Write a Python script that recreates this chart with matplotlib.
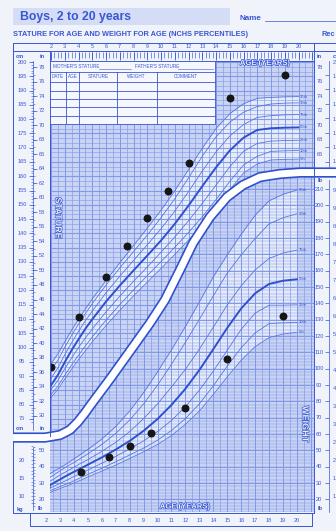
"""Boys 2 to 20 years: stature and weight for age percentile chart."""

import matplotlib

matplotlib.use("Agg")
import matplotlib.patheffects as pe  # noqa: E402
import numpy as np  # noqa: E402
from matplotlib import pyplot as plt  # noqa: E402
from matplotlib.patches import Polygon, Rectangle  # noqa: E402
from matplotlib.transforms import blended_transform_factory  # noqa: E402

plt.rcParams["font.family"] = ["Liberation Sans", "DejaVu Sans"]

# ---- data -------------------------------------------------------------------
percentiles = ["5th", "10th", "25th", "50th", "75th", "90th", "95th"]
ages = [2, 2.5, 3, 3.5, 4, 4.5, 5, 6, 7, 8, 9, 10, 11, 12, 13, 14, 15, 16, 17, 18, 19, 20]

stature_5 = [82.5, 85.4, 89.0, 92.5, 95.8, 98.9, 102.0, 107.7, 113.0, 118.1, 122.9, 127.7,
             132.6, 137.6, 142.9, 148.8, 155.2, 161.1, 164.3, 165.7, 165.9, 166.0]
stature_10 = [83.5, 86.5, 90.3, 93.9, 97.3, 100.6, 103.7, 109.6, 115.0, 120.2, 125.2, 130.1,
              135.1, 140.3, 145.8, 151.8, 158.2, 163.9, 167.0, 168.7, 168.9, 169.0]
stature_25 = [85.3, 88.5, 92.6, 96.4, 100.0, 103.4, 106.5, 112.5, 118.0, 123.2, 128.2, 133.4,
              138.7, 144.4, 150.5, 156.9, 163.3, 168.7, 171.5, 172.3, 172.5, 172.6]
stature_50 = [86.8, 90.4, 94.9, 99.1, 102.9, 106.6, 109.9, 116.1, 121.7, 127.0, 132.2, 137.5,
              143.3, 149.7, 156.5, 163.1, 169.0, 173.5, 176.2, 176.8, 177.0, 177.1]
stature_75 = [89.2, 92.9, 97.5, 101.7, 105.7, 109.4, 112.8, 119.2, 125.0, 130.5, 136.0, 141.6,
              147.8, 154.6, 161.8, 168.5, 174.1, 178.1, 180.6, 181.2, 181.5, 181.6]
stature_90 = [92.0, 95.6, 100.1, 104.3, 108.2, 111.9, 115.4, 121.9, 127.9, 133.6, 139.4, 145.5,
              152.1, 159.4, 167.0, 173.8, 178.9, 182.4, 184.4, 185.3, 185.6, 185.7]
stature_95 = [94.4, 97.8, 102.0, 106.1, 109.9, 113.5, 117.0, 123.5, 129.7, 135.7, 141.8, 148.1,
              154.9, 162.3, 169.8, 176.7, 181.9, 185.4, 187.3, 187.6, 187.8, 187.9]

weight_5 = [10.5, 11.3, 12.05, 12.8, 13.6, 14.4, 15.3, 16.9, 18.6, 20.4, 22.3, 24.3,
            26.8, 29.9, 33.6, 38.2, 43.1, 47.7, 51.5, 54.0, 55.0, 55.5]
weight_10 = [11.0, 11.8, 12.6, 13.4, 14.2, 15.1, 16.0, 17.7, 19.5, 21.4, 23.3, 25.5,
             28.2, 31.5, 35.6, 40.6, 46.1, 51.2, 55.3, 57.9, 58.1, 58.2]
weight_25 = [11.6, 12.6, 13.5, 14.4, 15.4, 16.3, 17.2, 19.1, 21.0, 23.1, 25.3, 27.9,
             31.0, 34.8, 39.4, 44.7, 50.5, 56.3, 60.8, 63.0, 63.0, 63.1]
weight_50 = [12.3, 13.5, 14.6, 15.7, 16.7, 17.7, 18.7, 20.7, 22.9, 25.3, 28.1, 31.4,
             35.3, 39.8, 45.0, 50.8, 56.7, 62.1, 66.3, 68.9, 69.8, 70.2]
weight_75 = [13.4, 14.6, 15.8, 16.9, 18.0, 19.1, 20.1, 22.4, 24.9, 27.9, 31.5, 35.6,
             40.3, 45.2, 50.8, 56.9, 63.1, 68.4, 72.8, 76.0, 77.5, 78.3]
weight_90 = [14.4, 15.7, 17.0, 18.2, 19.3, 20.5, 21.7, 24.3, 27.4, 31.1, 35.6, 40.8,
             46.6, 52.7, 59.1, 65.6, 71.9, 77.0, 81.5, 85.6, 87.3, 88.4]
weight_95 = [15.5, 16.7, 17.8, 19.0, 20.3, 21.6, 22.9, 25.8, 29.3, 33.6, 38.7, 44.5,
             50.6, 57.1, 63.9, 70.9, 77.0, 82.7, 88.0, 92.0, 93.8, 95.0]

stature_curves = [stature_5, stature_10, stature_25, stature_50, stature_75, stature_90, stature_95]
weight_curves = [weight_5, weight_10, weight_25, weight_50, weight_75, weight_90, weight_95]

# boundary band between the stature and weight panels (age, cm)
band_age = [-0.76, 1.56, 2.66, 3.38, 3.96, 4.47, 4.84, 6.29, 7.75, 9.20, 10.29, 11.38,
            12.33, 13.56, 14.80, 15.96, 17.20, 18.66, 20.11, 22.73]
band_cm = [68.5, 68.5, 69.4, 71.2, 74.0, 77.1, 79.6, 89.0, 98.8, 108.6, 116.7, 127.2,
           136.6, 145.7, 152.7, 156.9, 159.7, 160.8, 161.3, 161.3]

stature_visit_age = [2, 4, 6, 7.5, 9, 10.5, 12, 15, 19]
stature_visit_cm = [93.2, 110.6, 124.6, 135.6, 145.3, 154.8, 164.5, 187.5, 195.4]
weight_visit_age = [2, 4.5, 6.5, 8, 9.5, 12, 15, 19]
weight_visit_kg = [12.4, 16.8, 20.8, 24.0, 27.6, 34.5, 48.0, 60.0]

age_ticks = list(range(2, 21))

# ---- style ------------------------------------------------------------------
INK = "#3857d2"
CURVE = "#5877df"
BOLD = "#2f51cd"
GRID = "#8199e6"
TINT = "#c9d3f4"
PALE = "#e6ebfa"
PAGE = "#f1f3fb"

W, H = 336, 531
X0, X1 = 49.5, 314          # grid edges in pixels
Y0, Y1 = 61, 512
PX_CM, PX_KG = 2.856, 3.6
# the scan is slightly skewed: the upper (stature) half and the lower
# (weight) half carry their own age scale
TOP_AGE2, TOP_YEAR = 51.0, 13.75
BOT_AGE2, BOT_YEAR = 46.0, 13.944

fig = plt.figure(figsize=(W / 100, H / 100), dpi=100, facecolor=PAGE)
rect = [X0 / W, 1 - Y1 / H, (X1 - X0) / W, (Y1 - Y0) / H]

ax = fig.add_axes(rect)
ax.set_xlim(2 + (X0 - TOP_AGE2) / TOP_YEAR, 2 + (X1 - TOP_AGE2) / TOP_YEAR)
ax.set_ylim(200 - (Y1 - 62) / PX_CM, 200 - (Y0 - 62) / PX_CM)
ax.set_facecolor(TINT)
ax2 = fig.add_axes(rect)
ax2.set_xlim(2 + (X0 - BOT_AGE2) / BOT_YEAR, 2 + (X1 - BOT_AGE2) / BOT_YEAR)
ax2.set_ylim((532 - Y1) / PX_KG, (532 - Y0) / PX_KG)
ax2.patch.set_visible(False)
for a in (ax, ax2):
    a.set_xticks([])
    a.set_yticks([])
    for spine in a.spines.values():
        spine.set_visible(False)

deco = fig.add_axes([0, 0, 1, 1], zorder=5)
deco.set_xlim(0, W)
deco.set_ylim(H, 0)
deco.axis("off")
deco.patch.set_visible(False)

st_tr = blended_transform_factory(deco.transData, ax.transData)
wt_tr = blended_transform_factory(deco.transData, ax2.transData)
top_tr = blended_transform_factory(ax.transData, deco.transData)
bot_tr = blended_transform_factory(ax2.transData, deco.transData)

band = list(zip(band_age, band_cm))
stature_zone = Polygon(band + [(23, 215), (-1, 215)], closed=True, transform=ax.transData)
weight_zone = Polygon(band + [(23, 30), (-1, 30)], closed=True, transform=ax.transData)

# ---- stature panel ----------------------------------------------------------
ax.fill_between(ages, stature_5, stature_95, color=PALE, lw=0, zorder=0.5)
half_years = np.arange(2, 21.01, 0.5)
for a, zone in ((ax, stature_zone), (ax2, weight_zone)):
    v = a.vlines(half_years, -10, 250, colors=GRID, lw=0.45, zorder=1)
    v.set_clip_path(zone)
    v = a.vlines(np.arange(2, 22), -10, 250, colors=GRID, lw=0.7, zorder=1)
    v.set_clip_path(zone)
h = ax.hlines(200 - np.arange(0, 100) * 5 / 3, 0, 25, colors=GRID, lw=0.4, zorder=1)
h.set_clip_path(stature_zone)
h = ax.hlines(np.arange(40, 205, 5), 0, 25, colors=GRID, lw=0.8, zorder=1)
h.set_clip_path(stature_zone)

for name, values in zip(percentiles, stature_curves):
    bold = name == "50th"
    ax.plot(ages, values, color=BOLD if bold else CURVE, lw=1.4 if bold else 0.6, zorder=3)
    ax.text(20.1, values[-1], name, fontsize=3, color=INK, va="center", ha="left", zorder=3)
ax.scatter(stature_visit_age, stature_visit_cm, s=22, color="#161616", zorder=6)

# ---- weight panel -----------------------------------------------------------
ax2.fill_between(ages, weight_5, weight_95, color=PALE, lw=0, zorder=0.5)
h = ax2.hlines(np.arange(10, 300, 2) * 0.45359237, 0, 25, colors=GRID, lw=0.35, zorder=1)
h.set_clip_path(weight_zone)
h = ax2.hlines(np.arange(10, 300, 10) * 0.45359237, 0, 25, colors=GRID, lw=0.7, zorder=1)
h.set_clip_path(weight_zone)

for name, values in zip(percentiles, weight_curves):
    bold = name == "50th"
    ax2.plot(ages, values, color=BOLD if bold else CURVE, lw=1.4 if bold else 0.6, zorder=3)
    ax2.text(20.1, values[-1], name, fontsize=3, color=INK, va="center", ha="left", zorder=3)
ax2.scatter(weight_visit_age, weight_visit_kg, s=22, color="#161616", zorder=6)

# boundary band
ax2.plot(band_age, band_cm, transform=ax.transData, color=BOLD, lw=7.4,
         solid_capstyle="butt", clip_on=False, zorder=7)
ax2.plot(band_age, band_cm, transform=ax.transData, color="white", lw=5.0,
         solid_capstyle="butt", clip_on=False, zorder=8)

# ---- header -----------------------------------------------------------------
deco.add_patch(Rectangle((13, 8), 217, 17, fc="#d4dcf6", ec="none"))
deco.text(20, 16.8, "Boys, 2 to 20 years", fontsize=8.8, fontweight="bold", color=INK, va="center")
deco.text(240, 18, "Name", fontsize=5.8, fontweight="bold", color=INK, va="center")
deco.plot([265, W], [21, 21], color=INK, lw=0.5)
deco.text(13, 34, "STATURE FOR AGE AND WEIGHT FOR AGE (NCHS PERCENTILES)",
          fontsize=5.3, fontweight="bold", color=INK, va="center")
deco.text(322, 34, "Rec", fontsize=5.3, fontweight="bold", color=INK, va="center")

# ---- frame lines ------------------------------------------------------------
frame = dict(color=INK, lw=0.7)
deco.plot([13, W], [43, 43], **frame)
deco.plot([13, W], [51, 51], **frame)
deco.plot([X0, X1], [Y0, Y0], **frame)
deco.plot([13, 13], [43, 433], **frame)
deco.plot([X0, X0], [51, 436], **frame)
deco.plot([X1, X1], [43, 513], **frame)
deco.plot([13, 13], [442, 513], **frame)
deco.plot([13, X1], [513, 513], **frame)
deco.plot([30, 312, 312, 30, 30], [513, 513, 526, 526, 513], **frame)
deco.plot([33, 33], [61, 430], color=INK, lw=0.5)
deco.plot([33, 33], [447, 510], color=INK, lw=0.5)
deco.plot([329, 329], [61, 167], color=INK, lw=0.5)
deco.plot([329, 329], [180, 512], color=INK, lw=0.5)

# ruler of months under the top ages
deco.vlines(np.arange(2, 21.01, 0.25), 52, 57.5, transform=top_tr, colors=INK, lw=0.45)
deco.vlines(np.arange(2, 21.01, 1), 52, 60, transform=top_tr, colors=INK, lw=0.6)
for age in age_ticks:
    deco.text(age, 47, str(age), transform=top_tr, fontsize=4, color=INK, ha="center", va="center")
    deco.text(age, 520, str(age), transform=bot_tr, fontsize=4, color=INK, ha="center", va="center")

tick = dict(fontsize=4.1, color=INK, ha="center", va="center")
for x, y, s in ((20, 56.5, "cm"), (42, 56.5, "in"), (20, 428, "cm"), (42, 428, "in"),
                (20, 509, "kg"), (40, 509, "lb"), (319, 56.5, "in"), (334, 56.5, "c"),
                (320, 180, "lb"), (320, 509, "lb")):
    deco.text(x, y, s, fontweight="bold", **tick)

# left stature scale
for cm in range(75, 201, 5):
    deco.text(22, cm, str(cm), transform=st_tr, **tick)
for inch in range(30, 79, 2):
    deco.text(42, inch * 2.54, str(inch), transform=st_tr, **tick)
deco.hlines(np.arange(74, 201), 31, 33, transform=st_tr, colors=INK, lw=0.4)
deco.hlines(np.arange(75, 201, 5), 29, 33, transform=st_tr, colors=INK, lw=0.5)
deco.hlines(np.arange(30, 79) * 2.54, 33, 35, transform=st_tr, colors=INK, lw=0.4)
deco.hlines(np.arange(30, 79, 2) * 2.54, 33, 37, transform=st_tr, colors=INK, lw=0.5)

# left weight scale
for kg in (10, 15, 20):
    deco.text(22, kg, str(kg), transform=wt_tr, **tick)
for lb in (20, 30, 40, 50):
    deco.text(42, lb * 0.45359237, str(lb), transform=wt_tr, **tick)
deco.hlines(np.arange(8, 25), 31, 33, transform=wt_tr, colors=INK, lw=0.4)
deco.hlines(np.arange(16, 54, 2) * 0.45359237, 33, 35, transform=wt_tr, colors=INK, lw=0.4)

# right stature scale (the cm column is cut by the page edge)
for inch in range(66, 79, 2):
    deco.text(320, inch * 2.54, str(inch), transform=st_tr, **tick)
for cm in range(165, 201, 5):
    deco.text(332.5, cm, str(cm)[0], transform=st_tr, fontsize=4.1, color=INK, ha="left", va="center")
deco.hlines(np.arange(65, 79, 2) * 2.54, 325, 329, transform=st_tr, colors=INK, lw=0.5)

# right weight scale
for lb in range(20, 211, 10):
    deco.text(319, lb * 0.45359237, str(lb), transform=wt_tr, **tick)
for kg in range(10, 96, 5):
    deco.text(332.5, kg, str(kg)[0], transform=wt_tr, fontsize=4.1, color=INK, ha="left", va="center")
deco.hlines(np.arange(20, 211, 10) * 0.45359237, 325, 329, transform=wt_tr, colors=INK, lw=0.5)

# ---- record table -----------------------------------------------------------
deco.add_patch(Rectangle((X0, 61), 215 - X0, 63, fc="#f6f7fd", ec=INK, lw=0.6, zorder=2))
for y in (71.7, 82.3, 90.7, 99, 107.3, 115.7):
    deco.plot([X0, 215], [y, y], color=INK, lw=0.6, zorder=3)
for x in (65.7, 79.3, 116.7, 156.7):
    deco.plot([x, x], [71.7, 124], color=INK, lw=0.6, zorder=3)
small = dict(fontsize=3.3, color=INK, va="center", zorder=3)
deco.text(53, 66.5, "MOTHER'S STATURE", **small)
deco.plot([99, 131], [68.5, 68.5], color=INK, lw=0.4, zorder=3)
deco.text(135, 66.5, "FATHER'S STATURE", **small)
deco.plot([178, 213], [68.5, 68.5], color=INK, lw=0.4, zorder=3)
for x, s in ((58, "DATE"), (72.5, "AGE"), (98, "STATURE"), (136.7, "WEIGHT"), (186, "COMMENT")):
    deco.text(x, 77, s, ha="center", **small)

# ---- outlined panel captions ------------------------------------------------
outline = [pe.withStroke(linewidth=1.0, foreground=INK)]
cap = dict(fontweight="bold", color=PALE, ha="center", va="center", path_effects=outline)
deco.text(265, 63.5, "AGE (YEARS)", fontsize=5.5, **cap)
deco.text(185, 507, "AGE (YEARS)", fontsize=5.5, **cap)
deco.text(58, 218, "STATURE", fontsize=6.5, rotation=-90, **cap)
deco.text(305, 424, "WEIGHT", fontsize=6.5, rotation=-90, **cap)

fig.savefig("out.png", dpi=100, facecolor=PAGE)
